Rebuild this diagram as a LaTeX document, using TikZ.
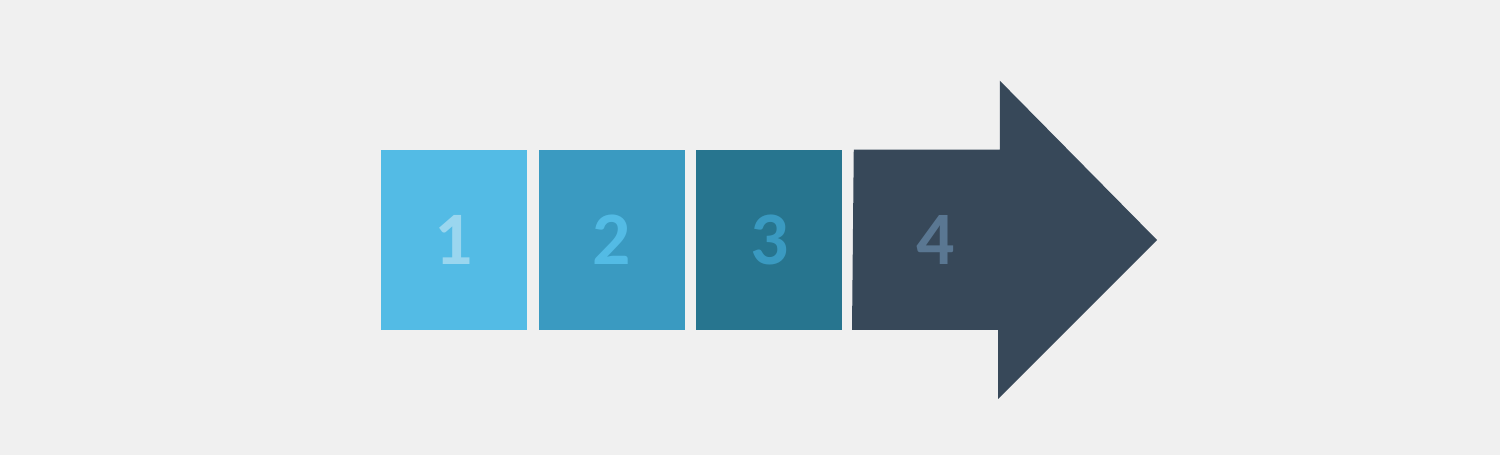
\documentclass[tikz,border=0pt]{standalone}
\usepackage{fontspec}
\setmainfont{Carlito}
\usetikzlibrary{positioning}

\definecolor{bgcol}{HTML}{F0F0F0}
\definecolor{stepa}{HTML}{53BBE5}
\definecolor{stepb}{HTML}{3A9AC1}
\definecolor{stepc}{HTML}{27758F}
\definecolor{stepd}{HTML}{374859}
\definecolor{labela}{HTML}{9AD6EF}
\definecolor{labeld}{HTML}{5A7792}

\begin{document}
\begin{tikzpicture}[
    stepbox/.style={rectangle, inner sep=0pt, minimum width=2.92cm, minimum height=3.6cm,
                    font=\fontsize{43}{43}\selectfont\bfseries},
    gap/.style={right=0.22cm of #1}
]

% Background
\fill[bgcol] (0,0) rectangle (30,9.1);

% Boxes
\node[stepbox, fill=stepa, text=labela] (s1) at (9.08,4.3) {1};
\node[stepbox, fill=stepb, text=stepa, gap=s1] (s2) {2};
\node[stepbox, fill=stepc, text=stepb, gap=s2] (s3) {3};

% Arrow
\coordinate (a0) at ([xshift=0.22cm]s3.north east);
\fill[stepd] (a0) -- ++(2.92,0) -- ++(0,1.38)
    -- (23.14,4.3) -- (19.96,1.12) -- ++(0,1.38) -- ++(-2.92,0) -- cycle;
\node[font=\fontsize{43}{43}\selectfont\bfseries, text=labeld] (s4) at (18.72,4.3) {4};

\end{tikzpicture}
\end{document}
